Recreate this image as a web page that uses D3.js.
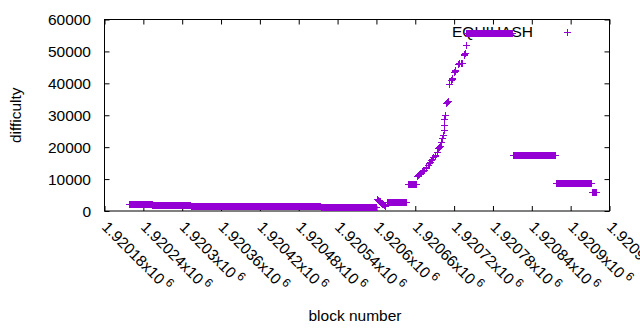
<!DOCTYPE html>
<html>
<head>
<meta charset="utf-8">
<script src="https://cdn.jsdelivr.net/npm/d3@7"></script>
<style>
    body { margin: 0; background: #fff; }
    text { font-family: "Liberation Sans", Arial, sans-serif; fill: #000; }
</style>
</head>
<body>
<script>
(function(){

    var seriesName = "EQUIHASH";

    // stretches of blocks where the difficulty did not move (one point per block)
    var runFirst = [1920218, 1920254, 1920313, 1920374, 1920514, 1920616, 1920648, 1920739, 1920811, 1920877, 1920933];
    var runLast  = [1920253, 1920312, 1920373, 1920513, 1920600, 1920646, 1920661, 1920810, 1920876, 1920932, 1920939];
    var runDiff  = [2300, 1980, 1660, 1470, 1160, 2700, 8600, 55900, 17400, 8700, 5850];

    // single blocks between the flat stretches
    var stepBlock = [
        1920601, 1920602, 1920603, 1920604, 1920605, 1920606, 1920607,
        1920608, 1920609, 1920610, 1920611, 1920612, 1920613, 1920614,
        1920662, 1920663, 1920664, 1920666, 1920668, 1920669, 1920671,
        1920672, 1920674, 1920676, 1920677, 1920679, 1920681, 1920683,
        1920685, 1920686, 1920688, 1920690, 1920691, 1920693, 1920695,
        1920696, 1920697, 1920698, 1920700, 1920702, 1920703, 1920704,
        1920705, 1920705, 1920706, 1920708, 1920709, 1920710, 1920712,
        1920715, 1920716, 1920717, 1920720, 1920721, 1920722, 1920726,
        1920728, 1920730, 1920732, 1920735, 1920736, 1920737, 1920738
    ];
    var stepDiff = [
        3700, 3500, 3300, 3150, 3000, 2800, 2650,
        2500, 2300, 2150, 2000, 1850, 1700, 1550,
        10900, 11000, 11200, 11500, 11800, 12000, 12400,
        12600, 13000, 13600, 13900, 14400, 14900, 15400,
        15900, 16200, 16800, 17300, 17600, 18500, 19700,
        20000, 20200, 20400, 21500, 22800, 23800, 25300,
        26900, 28900, 30100, 33900, 34300, 34600, 39700,
        41000, 41300, 41700, 43500, 43800, 44100, 46000,
        46300, 46500, 46300, 48800, 49100, 49400, 52000
    ];

    var xTicks = [1920180, 1920240, 1920300, 1920360, 1920420, 1920480, 1920540,
                  1920600, 1920660, 1920720, 1920780, 1920840, 1920900, 1920960];
    var yTicks = [0, 10000, 20000, 30000, 40000, 50000, 60000];

    var purple = "#9400d3";

    window.onload = setChart();

    function setChart(){
        var width = 640, height = 330;
        var left = 104.5, right = 609.5, top = 19.5, bottom = 211;

        var svg = d3.select("body")
            .append("svg")
            .attr("width", width)
            .attr("height", height);

        var x = d3.scaleLinear()
            .domain([1920180, 1920960])
            .range([left, right]);

        var y = d3.scaleLinear()
            .domain([0, 60000])
            .range([bottom, top]);

        var points = [];
        for (var i=0; i<runFirst.length; i++){
            for (var b=runFirst[i]; b<=runLast[i]; b++){
                points.push({block: b, diff: runDiff[i]});
            }
        }
        for (var j=0; j<stepBlock.length; j++){
            points.push({block: stepBlock[j], diff: stepDiff[j]});
        }

        // ticks point inward, mirrored on the top and right
        var xAxis = d3.axisBottom(x).tickValues(xTicks).tickSize(-5).tickFormat("");
        var xTop = d3.axisTop(x).tickValues(xTicks).tickSize(-5).tickFormat("");
        var yAxis = d3.axisLeft(y).tickValues(yTicks).tickSize(-5).tickFormat("");
        var yRight = d3.axisRight(y).tickValues(yTicks).tickSize(-5).tickFormat("");

        svg.append("g").attr("transform", "translate(0," + bottom + ")").call(xAxis);
        svg.append("g").attr("transform", "translate(0," + top + ")").call(xTop);
        svg.append("g").attr("transform", "translate(" + left + ",0)").call(yAxis);
        svg.append("g").attr("transform", "translate(" + right + ",0)").call(yRight);
        svg.selectAll(".domain").remove();
        svg.selectAll(".tick line").attr("stroke", "#000");

        svg.append("rect")
            .attr("x", left).attr("y", top)
            .attr("width", right - left).attr("height", bottom - top)
            .attr("fill", "none").attr("stroke", "#000");

        // y tick labels
        svg.selectAll(".ylab")
            .data(yTicks)
            .enter()
            .append("text")
            .attr("class", "ylab")
            .attr("x", 91)
            .attr("y", function(d){ return y(d); })
            .attr("dy", "0.36em")
            .attr("text-anchor", "end")
            .style("font-size", "15.5px")
            .text(function(d){ return d; });

        // x tick labels, rotated, with the exponent raised
        var xl = svg.selectAll(".xlab")
            .data(xTicks)
            .enter()
            .append("text")
            .attr("class", "xlab")
            .attr("transform", function(d){ return "translate(" + (x(d) + 0.5) + ",224) rotate(45)"; })
            .attr("dy", "0.36em")
            .style("font-size", "15.5px");
        xl.append("tspan")
            .text(function(d){ return (+(d / 1e6).toFixed(5)) + "x10"; });
        xl.append("tspan")
            .attr("dx", 3)
            .attr("dy", -6)
            .style("font-size", "12px")
            .text("6");

        svg.append("text")
            .attr("transform", "translate(21," + ((top + bottom) / 2) + ") rotate(-90)")
            .attr("text-anchor", "middle")
            .style("font-size", "15.5px")
            .text("difficulty");

        svg.append("text")
            .attr("x", 355)
            .attr("y", 321)
            .attr("text-anchor", "middle")
            .style("font-size", "15.5px")
            .text("block number");

        // key text sits under the points
        svg.append("text")
            .attr("x", 533)
            .attr("y", 37)
            .attr("text-anchor", "end")
            .style("font-size", "15.5px")
            .text(seriesName);

        var plus = "M-3.5,0H3.5M0,-3.5V3.5";

        svg.append("g")
            .attr("shape-rendering", "crispEdges")
            .selectAll("path")
            .data(points)
            .enter()
            .append("path")
            .attr("transform", function(d){
                return "translate(" + (Math.round(x(d.block)) + 0.5) + "," + (Math.round(y(d.diff)) + 0.5) + ")";
            })
            .attr("d", plus)
            .attr("fill", "none")
            .attr("stroke", purple)
            .attr("stroke-width", 1);

        svg.append("path")
            .attr("shape-rendering", "crispEdges")
            .attr("transform", "translate(567.5,32.5)")
            .attr("d", plus)
            .attr("fill", "none")
            .attr("stroke", purple)
            .attr("stroke-width", 1);
    };

})();
</script>
</body>
</html>
